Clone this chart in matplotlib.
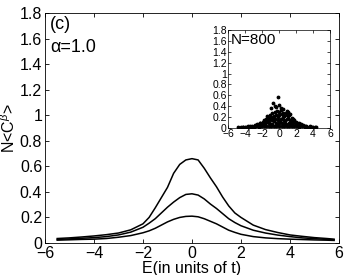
import matplotlib
matplotlib.use('Agg')
import matplotlib.pyplot as plt

plt.rcParams['font.family'] = ['Liberation Sans', 'DejaVu Sans']
plt.rcParams['mathtext.fontset'] = 'custom'
plt.rcParams['mathtext.rm'] = 'Liberation Sans'
plt.rcParams['mathtext.it'] = 'Liberation Sans:italic'

# energy grid
E = [-5.5, -5, -4.5, -4, -3.5, -3, -2.5, -2, -1.75, -1.5, -1.25, -1, -0.75, -0.5, -0.25, 0,
     0.25, 0.5, 0.75, 1, 1.25, 1.5, 1.75, 2, 2.5, 3, 3.5, 4, 4.5, 5, 5.5, 5.8]
c_top = [0.035, 0.040, 0.047, 0.055, 0.065, 0.078, 0.103, 0.150, 0.200, 0.275, 0.355, 0.435,
         0.545, 0.615, 0.650, 0.660, 0.650, 0.585, 0.510, 0.440, 0.360, 0.290, 0.235, 0.200,
         0.140, 0.105, 0.082, 0.063, 0.052, 0.042, 0.035, 0.030]
c_mid = [0.028, 0.032, 0.037, 0.042, 0.050, 0.063, 0.085, 0.123, 0.155, 0.190, 0.235, 0.280,
         0.320, 0.355, 0.380, 0.385, 0.375, 0.345, 0.305, 0.270, 0.230, 0.190, 0.160, 0.135,
         0.100, 0.078, 0.062, 0.050, 0.040, 0.034, 0.028, 0.025]
c_bot = [0.022, 0.025, 0.028, 0.030, 0.035, 0.045, 0.058, 0.080, 0.095, 0.115, 0.140, 0.165,
         0.185, 0.200, 0.208, 0.210, 0.205, 0.190, 0.170, 0.150, 0.125, 0.100, 0.083, 0.068,
         0.050, 0.040, 0.034, 0.030, 0.027, 0.024, 0.022, 0.020]

# inset scatter (N=800), sampled by eye
E_in = [-4.8, -4.5, -4.2, -3.9, -3.6, -3.3, -3.0, -2.7, -2.4, -2.1, -1.8, -1.5, -1.2, -0.9, -0.6, -0.3,
        0, 0.3, 0.6, 0.9, 1.2, 1.5, 1.8, 2.1, 2.4, 2.7, 3.0, 3.3, 3.6, 3.9, 4.2, 4.4,
        -3.6, -3.2, -2.8, -2.4, -2.0, -1.6, -1.2, -0.8, -0.4, 0, 0.4, 0.8, 1.2, 1.6, 2.0, 2.4, 2.8, 3.2, 3.6,
        -4.2, -3.4, -2.6, -1.8, -1.0, -0.2, 0.6, 1.4, 2.2, 3.0, 3.8,
        -2.6, -2.25, -1.9, -1.55, -1.2, -0.85, -0.5, -0.15, 0.2, 0.55, 0.9, 1.25, 1.6, 1.95, 2.3, 2.6,
        -2.2, -1.4, -0.6, 0.1, 0.7, 1.4, 2.1,
        -1.8, -1.5, -1.2, -0.9, -0.6, -0.3, 0, 0.3, 0.6, 0.9, 1.2, 1.5, 1.8,
        -1.35, -0.75, -0.1, 0.45, 1.05, 1.6,
        -1.1, -0.8, -0.5, -0.25, 0, 0.25, 0.5, 0.8, 1.1,
        -0.7, -0.5, -0.3, -0.1, 0.2, 0.5, 0.9, 1.1, -0.9, 1.3, -1.4, 0.0]
C_in = [0.010, 0.015, 0.012, 0.020, 0.018, 0.025, 0.020, 0.030, 0.025, 0.030, 0.028, 0.035, 0.030, 0.040,
        0.035, 0.030, 0.040, 0.035, 0.030, 0.040, 0.035, 0.030, 0.028, 0.030, 0.025, 0.030, 0.020, 0.022,
        0.018, 0.015, 0.012, 0.010,
        0.030, 0.040, 0.050, 0.060, 0.070, 0.080, 0.090, 0.080, 0.100, 0.090, 0.100, 0.080, 0.090, 0.085,
        0.070, 0.060, 0.050, 0.040, 0.035,
        0.020, 0.040, 0.050, 0.060, 0.070, 0.060, 0.070, 0.060, 0.050, 0.040, 0.025,
        0.070, 0.090, 0.110, 0.120, 0.140, 0.150, 0.160, 0.150, 0.170, 0.150, 0.160, 0.150, 0.130, 0.110,
        0.090, 0.070,
        0.100, 0.110, 0.120, 0.130, 0.120, 0.110, 0.100,
        0.140, 0.170, 0.190, 0.210, 0.220, 0.240, 0.230, 0.250, 0.220, 0.230, 0.240, 0.190, 0.150,
        0.170, 0.190, 0.200, 0.200, 0.190, 0.160,
        0.240, 0.270, 0.300, 0.320, 0.300, 0.330, 0.280, 0.270, 0.280,
        0.460, 0.400, 0.380, 0.575, 0.360, 0.350, 0.320, 0.300, 0.360, 0.250, 0.220, 0.430]

xticks = [-6, -4, -2, 0, 2, 4, 6]
yticks = [0, 0.2, 0.4, 0.6, 0.8, 1, 1.2, 1.4, 1.6, 1.8]
ylabels = ['0', '0.2', '0.4', '0.6', '0.8', '1', '1.2', '1.4', '1.6', '1.8']

fig = plt.figure(figsize=(3.46, 2.75), dpi=100)
ax = fig.add_axes([0.130, 0.1164, 0.8497, 0.8364])

for c in (c_top, c_mid, c_bot):
    ax.plot(E, c, color='k', lw=1.1)

ax.set_xlim(-6, 6)
ax.set_ylim(0, 1.8)
ax.set_xticks(xticks)
ax.set_yticks(yticks)
ax.set_yticklabels(ylabels)
ax.tick_params(direction='in', top=True, right=True, length=3, width=0.6, labelsize=11.5, pad=2)
for s in ax.spines.values():
    s.set_linewidth(0.6)
ax.set_xlabel('E(in units of t)', fontsize=11.5, labelpad=0)
ax.set_ylabel(r'N<C$^{\beta}$>', fontsize=11.5, labelpad=1)
ax.text(0.017, 0.948, '(c)', transform=ax.transAxes, fontsize=13, va='center', ha='left')
ax.text(0.017, 0.852, '\u03b1=1.0', transform=ax.transAxes, fontsize=13, va='center', ha='left')

# inset
axi = fig.add_axes([0.659, 0.5345, 0.2948, 0.3564])
axi.plot(E_in, C_in, ls='none', marker='.', ms=3.5, color='k')
axi.set_xlim(-6, 6)
axi.set_ylim(0, 1.8)
axi.set_xticks(xticks)
axi.set_yticks(yticks)
axi.set_yticklabels(ylabels)
axi.tick_params(direction='in', top=True, right=True, length=2, width=0.5, labelsize=7.5, pad=1)
for s in axi.spines.values():
    s.set_linewidth(0.5)
axi.text(0.03, 0.9, 'N=800', transform=axi.transAxes, fontsize=11, va='center', ha='left')

plt.savefig('out.png', dpi=100)
